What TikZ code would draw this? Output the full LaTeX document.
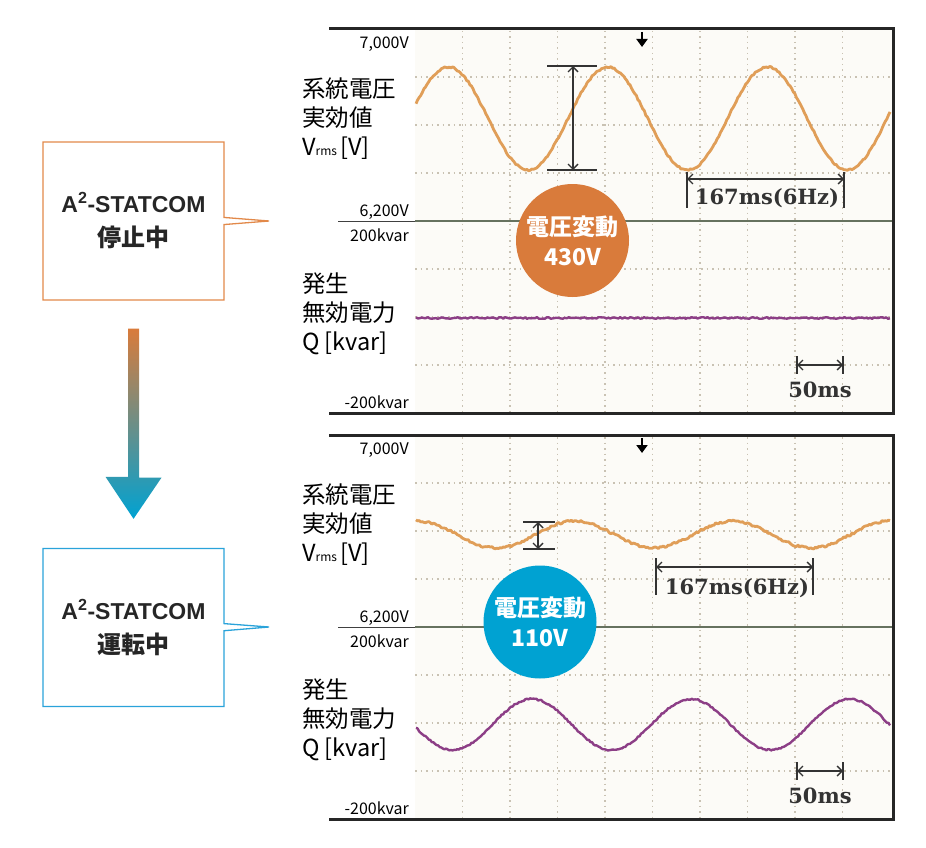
\documentclass[tikz,border=0pt]{standalone}
\usepackage{fontspec}
\setmainfont{Noto Sans CJK JP}
\newfontfamily\latinsans{Liberation Sans}
\newfontfamily\scopeserif{DejaVu Serif}
\usetikzlibrary{shapes.callouts,arrows.meta,calc,positioning}
\definecolor{vcolor}{HTML}{E09E58}
\definecolor{qcolor}{HTML}{8C3E86}
\definecolor{orangeA}{HTML}{D97B3B}
\definecolor{orangeB}{HTML}{E2894A}
\definecolor{blueA}{HTML}{00A2D2}
\definecolor{blueB}{HTML}{2AA3DA}
\definecolor{midgreen}{HTML}{66725F}
\definecolor{gridc}{HTML}{C9C2B3}
\definecolor{screen}{HTML}{FCFBF7}
\tikzstyle{calloutbox} = [rectangle callout,line width=1.3pt,fill=white,minimum width=181pt,minimum height=158pt,inner sep=0pt,align=center,text=black!85,font=\bfseries\fontsize{23}{34}\selectfont]
\tikzstyle{badge} = [circle,minimum size=113pt,inner sep=0pt,align=center,text=white,font=\bfseries\fontsize{23}{30}\selectfont]
\tikzstyle{scalelbl} = [anchor=east,inner sep=0pt,font=\fontsize{16}{16}\selectfont]
\tikzstyle{axislbl} = [anchor=west,inner sep=0pt,align=left,font=\fontsize{23.5}{29}\selectfont]
\tikzstyle{frame} = [line width=3pt,draw=black!85]
\tikzstyle{gridline} = [gridc,line width=1.1pt,dash pattern=on 1.5pt off 4pt]
\tikzstyle{midline} = [midgreen,line width=2.2pt]
\tikzstyle{vtrace} = [vcolor,line width=2.8pt,line join=round]
\tikzstyle{qtrace} = [qcolor,line width=2.4pt,line join=round]
\tikzstyle{dimline} = [line width=1.4pt,black!80]
\tikzstyle{dimarrow} = [line width=1.4pt,black!80,{Straight Barb[length=5pt,width=10pt]}-{Straight Barb[length=5pt,width=10pt]}]
\tikzstyle{mstext} = [inner sep=0pt,text=black!80,font=\scopeserif\bfseries\fontsize{21}{21}\selectfont]
\tikzstyle{marker} = [line width=2.4pt,black,-{Triangle[length=8pt,width=11pt]}]

\begin{document}
\begin{tikzpicture}[x=1pt,y=-1pt]
\pgfmathsetseed{7}
\useasboundingbox (0,0) rectangle (926,848);

% 1 px = 1 pt, y runs down

% upper screen: A2-STATCOM off
\fill[screen] (415,30) rectangle (892,412);
\foreach \gx in {462.5,510,...,843} \draw[gridline] (\gx,31) -- (\gx,411);
\foreach \gy in {77,125,173,269,317,365} \draw[gridline] (415,\gy) -- (892,\gy);
\draw[black!75,line width=1pt] (338,221) -- (415,221);
\draw[midline] (415,221) -- (892,221);
\draw[frame] (329,29) -- (893,29) -- (893,413) -- (329,413);

\draw[vtrace] plot[domain=416:890,samples=300] (\x,{118.5-51.5*sin((\x-408.5)*2.25705)+0.9*rand});
\draw[qtrace] plot[domain=416:890,samples=240] (\x,{318+0.8*rand});

\node (v7k1) [scalelbl] at (409,44) {7,000V};
\node (vlab1) [axislbl] at (302,119) {系統電圧\\実効値\\V{\fontsize{12}{12}\selectfont rms}\kern3pt[V]};
\node (v62k1) [scalelbl] at (409,212) {6,200V};
\node (q200p1) [scalelbl] at (409,235) {200kvar};
\node (qlab1) [axislbl] at (302,314) {発生\\無効電力\\Q\kern5pt[kvar]};
\node (q200m1) [scalelbl] at (409,402) {-200kvar};

\coordinate (mk1a) at (642,32);
\coordinate (mk1b) at (642,47);
\draw[marker] (mk1a) -- (mk1b);

\coordinate (va1) at (573,66);
\coordinate (vb1) at (573,170);
\draw[dimline] ([xshift=-26pt]va1) -- ([xshift=24pt]va1);
\draw[dimline] ([xshift=-26pt]vb1) -- ([xshift=24pt]vb1);
\draw[dimarrow] (va1) -- (vb1);

\coordinate (pa1) at (687,179);
\coordinate (pb1) at (844,179);
\draw[dimline] ([yshift=7pt]pa1) -- ([yshift=-29pt]pa1);
\draw[dimline] ([yshift=7pt]pb1) -- ([yshift=-29pt]pb1);
\draw[dimarrow] (pa1) -- (pb1);
\node (per1) [mstext] at (767,198) {167ms(6Hz)};

\coordinate (fa1) at (797,365);
\coordinate (fb1) at (843,365);
\draw[dimline] ([yshift=9pt]fa1) -- ([yshift=-9pt]fa1);
\draw[dimline] ([yshift=9pt]fb1) -- ([yshift=-9pt]fb1);
\draw[dimarrow] (fa1) -- (fb1);
\node (fifty1) [mstext] at (820,390) {50ms};

\node (swing1) [badge,fill=orangeA] at (572.5,240.5) {電圧変動\\430V};

% lower screen: A2-STATCOM on
\fill[screen] (415,436) rectangle (892,818);
\foreach \gx in {462.5,510,...,843} \draw[gridline] (\gx,437) -- (\gx,817);
\foreach \gy in {483,531,579,675,723,771} \draw[gridline] (415,\gy) -- (892,\gy);
\draw[black!75,line width=1pt] (338,627) -- (415,627);
\draw[midline] (415,627) -- (892,627);
\draw[frame] (329,435) -- (893,435) -- (893,819) -- (329,819);

\draw[vtrace] plot[domain=416:890,samples=300] (\x,{534.5-13.5*sin((\x-535.6)*2.28571)+1.2*rand});
\draw[qtrace] plot[domain=416:890,samples=300] (\x,{724.5-25.5*sin((\x-492.3)*2.26700)+0.8*rand});

\node (v7k2) [scalelbl] at (409,450) {7,000V};
\node (vlab2) [axislbl] at (302,525) {系統電圧\\実効値\\V{\fontsize{12}{12}\selectfont rms}\kern3pt[V]};
\node (v62k2) [scalelbl] at (409,618) {6,200V};
\node (q200p2) [scalelbl] at (409,641) {200kvar};
\node (qlab2) [axislbl] at (302,720) {発生\\無効電力\\Q\kern5pt[kvar]};
\node (q200m2) [scalelbl] at (409,808) {-200kvar};

\coordinate (mk2a) at (642,438);
\coordinate (mk2b) at (642,453);
\draw[marker] (mk2a) -- (mk2b);

\coordinate (va2) at (538,522);
\coordinate (vb2) at (538,549);
\draw[dimline] ([xshift=-15pt]va2) -- ([xshift=17pt]va2);
\draw[dimline] ([xshift=-15pt]vb2) -- ([xshift=17pt]vb2);
\draw[dimarrow] (va2) -- (vb2);

\coordinate (pa2) at (656,567);
\coordinate (pb2) at (813,567);
\draw[dimline] ([yshift=9pt]pa2) -- ([yshift=-28pt]pa2);
\draw[dimline] ([yshift=9pt]pb2) -- ([yshift=-28pt]pb2);
\draw[dimarrow] (pa2) -- (pb2);
\node (per2) [mstext] at (737,588) {167ms(6Hz)};

\coordinate (fa2) at (797,771);
\coordinate (fb2) at (843,771);
\draw[dimline] ([yshift=9pt]fa2) -- ([yshift=-9pt]fa2);
\draw[dimline] ([yshift=9pt]fb2) -- ([yshift=-9pt]fb2);
\draw[dimarrow] (fa2) -- (fb2);
\node (fifty2) [mstext] at (820,796) {50ms};

\node (swing2) [badge,fill=blueA] at (540,622) {電圧変動\\110V};

% callouts and the change arrow
\node (stop) [calloutbox,draw=orangeB,callout absolute pointer={(269,221)}] at (133.5,221) {{\latinsans A\textsuperscript{2}-STATCOM}\\{\fontsize{24}{34}\selectfont 停止中}};
\node (run) [calloutbox,draw=blueB,callout absolute pointer={(269,627)}] at (133.5,627.5) {{\latinsans A\textsuperscript{2}-STATCOM}\\{\fontsize{24}{34}\selectfont 運転中}};

\coordinate (arrtop) at ($(stop.south)+(0,28)$);
\coordinate (arrtip) at ($(run.north)+(0,-29)$);
\shade[top color=orangeA,bottom color=blueA] ([xshift=-5.5pt]arrtop) -- ++(11,0) -- ++(0,149) -- ++(22.5,0) -- (arrtip) -- ++(-28,-42) -- ++(22.5,0) -- cycle;

\end{tikzpicture}
\end{document}
